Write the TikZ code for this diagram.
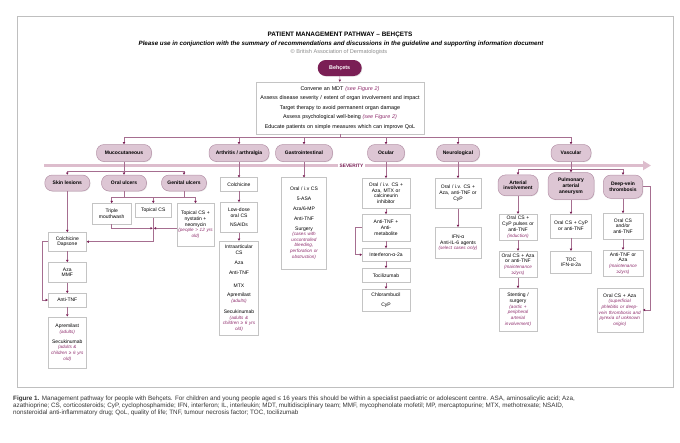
\documentclass[tikz,border=0pt]{standalone}
\usepackage{fontspec}
\setmainfont{Liberation Sans}
\usetikzlibrary{arrows.meta,shadows,positioning}

\definecolor{plum}{HTML}{7A1F55}
\definecolor{catfill}{HTML}{DDC6D4}
\definecolor{catdraw}{HTML}{B592A8}
\definecolor{sevcol}{HTML}{DDBDCD}
\definecolor{notecol}{HTML}{8E2C6C}
\definecolor{linkcol}{HTML}{A66E90}
\definecolor{boxdraw}{HTML}{C4C4C4}

\newcommand{\pnote}[1]{{\color{notecol}\itshape\fontsize{4.6}{5.6}\selectfont #1}}

\begin{document}
\begin{tikzpicture}[x=1pt, y=-1pt,
	shade/.style={drop shadow={shadow xshift=0.7pt, shadow yshift=-0.7pt, opacity=0.2, fill=black!50}},
	box/.style={draw=boxdraw, fill=white, align=center, inner xsep=0pt, inner ysep=1pt, line width=0.4pt, font=\fontsize{5}{5.8}\selectfont, shade},
	cat/.style={draw=catdraw, fill=catfill, rounded corners=7.5pt, align=center, inner xsep=0pt, inner ysep=1pt, line width=0.5pt, font=\bfseries\fontsize{5}{5.8}\selectfont, shade},
	wh/.style 2 args={text width=#1pt, minimum height=#2},
	link/.style={draw=linkcol, line width=0.45pt},
	arr/.style={link, -{Triangle[length=2.2pt, width=2.4pt, color=plum]}},
	sev/.style={draw=sevcol, line width=3pt, -{Triangle[length=8pt, width=9pt, color=sevcol]}}]
	\useasboundingbox (0,0) rectangle (680,442);
	\draw[black!25, line width=0.6pt] (17,16) rectangle (673,387);
	
	\node[font=\bfseries\fontsize{6.4}{7}\selectfont] (title) at (340,35) {PATIENT MANAGEMENT PATHWAY – BEHÇETS};
	\node[font=\bfseries\itshape\fontsize{6.2}{7}\selectfont] (subtitle) at (341,44) {Please use in conjunction with the summary of recommendations and discussions in the guideline and supporting information document};
	\node[font=\fontsize{5.6}{6}\selectfont, text=black!45] (copy) at (339,52) {© British Association of Dermatologists};
	
	\node[fill=plum, text=white, rounded corners=8pt, minimum width=44, minimum height=16, inner sep=0pt, font=\bfseries\fontsize{5.4}{6}\selectfont, shade] (behcet) at (339.7,68) {Behçets};
	\node[box, wh={168}{52}, font=\fontsize{5.4}{9.5}\selectfont] (mdt) at (340,108) {Convene an MDT \pnote{\fontsize{5.4}{9.5}\selectfont(see Figure 2)}\\Assess disease severity / extent of organ involvement and impact\\Target therapy to avoid permanent organ damage\\Assess psychological well-being \pnote{\fontsize{5.4}{9.5}\selectfont(see Figure 2)}\\Educate patients on simple measures which can improve QoL};
	
	% organ groups
	\node[cat, minimum width=55, minimum height=17] (muco) at (124,153) {Mucocutaneous};
	\node[cat, minimum width=60, minimum height=17] (arth) at (239,153) {Arthritis / arthralgia};
	\node[cat, minimum width=57, minimum height=17] (gastro) at (304,153) {Gastrointestinal};
	\node[cat, minimum width=37, minimum height=17] (ocular) at (386,153) {Ocular};
	\node[cat, minimum width=43, minimum height=17] (neuro) at (458,153) {Neurological};
	\node[cat, minimum width=40, minimum height=17] (vasc) at (571,153) {Vascular};
	
	\coordinate (topbus) at (0,137);
	\foreach \c in {muco,arth,gastro,ocular,neuro,vasc}
		\draw[arr] (mdt.south) -- (mdt.south |- topbus) -| (\c.north);
	\draw[arr] (behcet) -- (mdt);
	
	\coordinate (sevstart) at (44,165.5);
	\coordinate (sevend) at (651,165.5);
	\draw[sev] (sevstart) -- (sevend);
	\node[fill=white, inner xsep=1.5pt, inner ysep=0.5pt, text=plum, font=\bfseries\fontsize{4.8}{5}\selectfont] (sevlabel) at (351.5,166) {SEVERITY};
	
	% mucocutaneous
	\node[cat, minimum width=45, minimum height=16] (skin) at (67.3,183) {Skin lesions};
	\node[cat, minimum width=45, minimum height=16] (oral) at (124,183) {Oral ulcers};
	\node[cat, minimum width=45, minimum height=16] (genital) at (184,183) {Genital ulcers};
	\coordinate (mucbus) at (0,171);
	\foreach \c in {skin,oral,genital}
		\draw[arr] (muco.south) -- (muco.south |- mucbus) -| (\c.north);
	
	\node[box, wh={38.7}{20.7}] (mouth) at (111.7,213.7) {Triple\\mouthwash};
	\node[box, wh={36.7}{14}] (topcs) at (153.3,210.3) {Topical CS};
	\node[box, wh={37.6}{42.7}] (nyst) at (195.5,224.7) {Topical CS +\\nystatin +\\neomycin\\\pnote{(people > 12 yrs\\old)}};
	\coordinate (ulcbus) at (0,197);
	\draw[link] (genital.south) -- (genital.south |- ulcbus);
	\foreach \c in {mouth,topcs,nyst}
		\draw[arr] (oral.south) -- (oral.south |- ulcbus) -| (\c.north);
	
	\node[box, wh={38.4}{18.7}] (colch) at (67.3,241.7) {Colchicine\\Dapsone};
	\node[box, wh={38.4}{20}] (azammf) at (67.3,272.3) {Aza\\MMF};
	\node[box, wh={38.4}{13.4}] (antitnf) at (67.3,300) {Anti-TNF};
	\node[box, wh={38.4}{51.6}] (aprem) at (67.3,342.5) {Apremilast\\\pnote{(adults)}\\[4pt]Secukinumab\\\pnote{(adults \&\\children ≥ 6 yrs\\old)}};
	\coordinate (join) at (153.3,228.3);
	\draw[arr, shorten >=0.6pt] (mouth.south) |- (join);
	\draw[arr, shorten >=0.6pt] (nyst.west |- join) -- (join);
	\draw[arr] (topcs.south) |- (colch.east);
	\draw[arr] (colch.west) -- ++(-5.6,0) |- (antitnf.west);
	
	% arthritis / arthralgia
	\node[box, wh={37.3}{13.3}] (acolch) at (239,184.3) {Colchicine};
	\node[box, wh={37.3}{30}] (lowcs) at (239,217.3) {Low-dose\\oral CS\\[4pt]NSAIDs};
	\node[box, wh={39.3}{94.7}] (intra) at (239,288.3) {Intraarticular\\CS\\[4pt]Aza\\[4pt]Anti-TNF\\[7pt]MTX\\[4pt]Apremilast\\\pnote{(adults)}\\[5pt]Secukinumab\\\pnote{(adults \&\\children ≥ 6 yrs\\old)}};
	
	% gastrointestinal
	\node[box, wh={45}{91.3}] (gibox) at (304,223.3) {Oral / i.v CS\\[4pt]5-ASA\\[4pt]Aza/6-MP\\[4pt]Anti-TNF\\[4pt]Surgery\\\pnote{(cases with\\uncontrolled\\bleeding,\\perforation or\\obstruction)}};
	
	% ocular
	\node[box, wh={47.6}{30}] (oc1) at (386,193.3) {Oral / i.v. CS +\\Aza, MTX or\\calcineurin\\inhibitor};
	\node[box, wh={47.6}{26.7}] (oc2) at (386,227.7) {Anti-TNF +\\Anti-\\metabolite};
	\node[box, wh={47.6}{12.7}] (oc3) at (386,254.7) {Interferon-α-2a};
	\node[box, wh={47.6}{14}] (oc4) at (386,275.3) {Tocilizumab};
	\node[box, wh={47.6}{22.7}] (oc5) at (386,300.3) {Chlorambucil\\[4pt]CyP};
	\draw[arr] (oc2.west) -- ++(-6.7,0) |- (oc3.west);
	
	% neurological
	\node[box, wh={45.7}{30}] (ne1) at (458,193.3) {Oral / i.v. CS +\\Aza, anti-TNF or\\CyP};
	\node[box, wh={45.7}{31}] (ne2) at (458,242.8) {IFN-α\\Anti-IL-6 agents\\\pnote{(select cases only)}};
	
	% vascular
	\node[cat, minimum width=40, minimum height=20.7] (artinv) at (518,185.3) {Arterial\\involvement};
	\node[cat, minimum width=46, minimum height=27] (pulm) at (571,186) {Pulmonary\\arterial\\aneurysm};
	\node[cat, minimum width=39.4, minimum height=23.3] (dvt) at (623,186.7) {Deep-vein\\thrombosis};
	\coordinate (vasbus) at (0,169.5);
	\foreach \c in {artinv,dvt}
		\draw[arr] (vasc.south) -- (vasc.south |- vasbus) -| (\c.north);
	
	\node[box, wh={38.4}{26}] (ar1) at (518,227) {Oral CS +\\CyP pulses or\\anti-TNF\\\pnote{(induction)}};
	\node[box, wh={38.4}{26.7}] (ar2) at (518,264.3) {Oral CS + Aza\\or anti-TNF\\\pnote{(maintenance\\≥2yrs)}};
	\node[box, wh={38.4}{42.7}] (ar3) at (518,309.7) {Stenting /\\surgery\\\pnote{(aortic +\\peripheral\\arterial\\involvement)}};
	\node[box, wh={41}{23.4}] (pu1) at (571,226) {Oral CS + CyP\\or anti-TNF};
	\node[box, wh={41}{22.3}] (pu2) at (571,262.2) {TOC\\IFN-α-2a};
	\node[box, wh={39.4}{25.7}] (dv1) at (623,226.2) {Oral CS\\and/or\\anti-TNF};
	\node[box, wh={39.4}{26.7}] (dv2) at (623,263.3) {Anti-TNF or\\Aza\\\pnote{(maintenance\\≥2yrs)}};
	\node[box, wh={46}{43.4}] (dv3) at (619.7,310) {Oral CS + Aza\\\pnote{(superficial\\phlebitis or deep-\\vein thrombosis and\\pyrexia of unknown\\origin)}};
	\draw[arr] (dvt.east) -- ++(7.3,0) |- (dv3.east);
	
	\foreach \a/\b in {arth/acolch, gastro/gibox, ocular/oc1, neuro/ne1, vasc/pulm, skin/colch, colch/azammf, azammf/antitnf, antitnf/aprem, acolch/lowcs, lowcs/intra, oc1/oc2, oc2/oc3, oc3/oc4, oc4/oc5, ne1/ne2, artinv/ar1, ar1/ar2, ar2/ar3, pulm/pu1, pu1/pu2, dvt/dv1, dv1/dv2}
		\draw[arr] (\a.south) -- (\a.south |- \b.north);
	
	\node[anchor=north west, align=left, inner sep=0pt, text=black!80, font=\fontsize{6.3}{7}\selectfont] (caption) at (13,396) {\textbf{Figure 1.} Management pathway for people with Behçets. For children and young people aged ≤ 16 years this should be within a specialist paediatric or adolescent centre. ASA, aminosalicylic acid; Aza,\\azathioprine; CS, corticosteroids; CyP, cyclophosphamide; IFN, interferon; IL, interleukin; MDT, multidisciplinary team; MMF, mycophenolate mofetil; MP, mercaptopurine; MTX, methotrexate; NSAID,\\nonsteroidal anti-inflammatory drug; QoL, quality of life; TNF, tumour necrosis factor; TOC, tocilizumab};
\end{tikzpicture}
\end{document}
